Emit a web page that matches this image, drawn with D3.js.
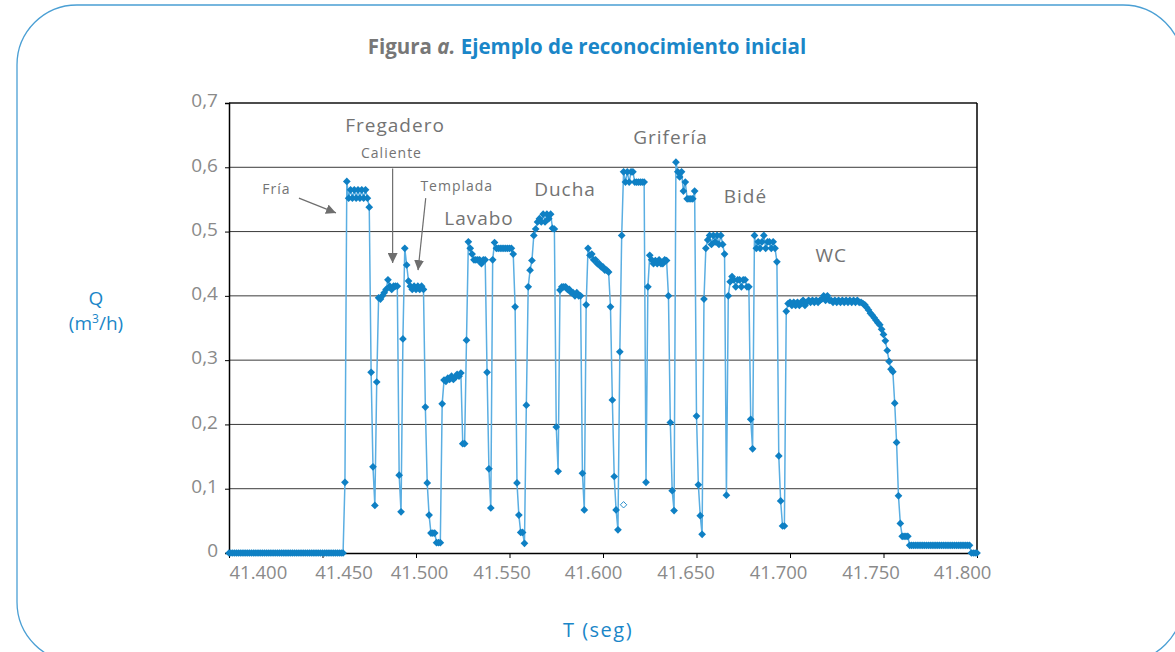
<!DOCTYPE html>
<html>
<head>
<meta charset="utf-8">
<script src="https://cdn.jsdelivr.net/npm/d3@7"></script>
<style>
  body { margin: 0; background: #fff; }
  svg text { font-family: "Open Sans", "Noto Sans", sans-serif; }
</style>
</head>
<body>
<svg id="chart" width="1175" height="652"></svg>
<script>
// Caudal Q (m3/h), una muestra por milisegundo desde T = 41.400 s
const reposoInicial = [
  0, 0, 0, 0, 0, 0, 0, 0, 0, 0, 0, 0, 0, 0, 0, 0, 0, 0, 0, 0,
  0, 0, 0, 0, 0, 0, 0, 0, 0, 0, 0, 0, 0, 0, 0, 0, 0, 0, 0, 0,
  0, 0, 0, 0, 0, 0, 0, 0, 0, 0, 0, 0, 0, 0, 0, 0, 0, 0, 0, 0,
  0, 0
];
const fregadero = [
  0.11, 0.578, 0.552, 0.565, 0.552, 0.565, 0.552, 0.565, 0.552, 0.565, 0.552, 0.565, 0.552, 0.538, 0.281, 0.134, 0.074, 0.266,
  0.397, 0.395, 0.40, 0.405, 0.41, 0.425, 0.415, 0.41, 0.415, 0.415, 0.415,
  0.121, 0.064, 0.333, 0.474, 0.448, 0.423, 0.415, 0.41, 0.415, 0.41, 0.415, 0.41, 0.415, 0.41,
  0.227, 0.109, 0.059, 0.031, 0.031, 0.031, 0.016, 0.016, 0.016,
  0.232, 0.269, 0.267, 0.272, 0.27, 0.275, 0.27, 0.273, 0.278, 0.275, 0.28, 0.17, 0.17
];
const lavabo = [
  0.331, 0.484, 0.474, 0.465, 0.456, 0.456, 0.456, 0.456, 0.45, 0.456, 0.456,
  0.281, 0.131, 0.07,
  0.456, 0.483, 0.474, 0.474, 0.474, 0.474, 0.474, 0.474, 0.474, 0.474, 0.474, 0.465, 0.383,
  0.109, 0.059, 0.032, 0.032, 0.015
];
const ducha = [
  0.23, 0.414, 0.44, 0.455, 0.494, 0.504, 0.515, 0.52, 0.515, 0.527, 0.515, 0.527, 0.52, 0.527, 0.505, 0.504,
  0.196, 0.127,
  0.409, 0.414, 0.414, 0.414, 0.41, 0.41, 0.405, 0.405, 0.40, 0.405, 0.40, 0.40,
  0.124, 0.067,
  0.386, 0.474, 0.463, 0.465, 0.456, 0.456, 0.45, 0.45, 0.445, 0.445, 0.44, 0.44, 0.437, 0.383,
  0.238, 0.119, 0.067, 0.036
];
const griferia = [
  0.313, 0.494, 0.593, 0.577, 0.593, 0.577, 0.593, 0.593, 0.577, 0.577, 0.577, 0.577, 0.577, 0.577,
  0.11,
  0.414, 0.463, 0.456, 0.45, 0.455, 0.45, 0.456, 0.45, 0.45, 0.456, 0.455, 0.40,
  0.203, 0.097, 0.066,
  0.608, 0.593, 0.585, 0.593, 0.563, 0.577, 0.551, 0.551, 0.551, 0.551, 0.563,
  0.213, 0.106, 0.058, 0.029
];
const bide = [
  0.395, 0.474, 0.487, 0.494, 0.48, 0.494, 0.484, 0.494, 0.48, 0.494, 0.48, 0.465,
  0.09,
  0.40, 0.422, 0.43, 0.425, 0.414, 0.425, 0.425, 0.414, 0.425, 0.425, 0.414, 0.414,
  0.208, 0.162,
  0.494, 0.474, 0.484, 0.474, 0.484, 0.494, 0.474, 0.484, 0.484, 0.474, 0.484, 0.474, 0.453,
  0.151, 0.081, 0.042, 0.042
];
const wc = [
  0.376, 0.388,
  0.39, 0.385, 0.39, 0.385, 0.39, 0.385, 0.39, 0.393, 0.385, 0.39,
  0.393, 0.39, 0.393, 0.39, 0.393, 0.39, 0.393, 0.395, 0.40, 0.393,
  0.40, 0.393, 0.393, 0.39, 0.393, 0.39, 0.393, 0.39, 0.393, 0.39,
  0.393, 0.39, 0.393, 0.39, 0.393, 0.39, 0.393, 0.39, 0.39,
  0.388, 0.386, 0.382, 0.378, 0.373, 0.37, 0.366, 0.362, 0.358, 0.355,
  0.348, 0.34, 0.33, 0.315, 0.298, 0.286, 0.282, 0.233, 0.172, 0.089,
  0.046, 0.026, 0.026, 0.026, 0.026
];
const reposoFinal = [
  0.012, 0.012, 0.012, 0.012, 0.012, 0.012, 0.012, 0.012, 0.012, 0.012, 0.012,
  0.012, 0.012, 0.012, 0.012, 0.012, 0.012, 0.012, 0.012, 0.012, 0.012, 0.012,
  0.012, 0.012, 0.012, 0.012, 0.012, 0.012, 0.012, 0.012, 0.012, 0.012, 0.012,
  0, 0, 0, 0
];
// punto suelto sin relleno (muestra, Q)
const atipico = [[211, 0.075]];

const ticksQ = [0, 0.1, 0.2, 0.3, 0.4, 0.5, 0.6, 0.7];
const etiquetasQ = ['0', '0,1', '0,2', '0,3', '0,4', '0,5', '0,6', '0,7'];
const muestrasT = [0, 50, 100, 150, 200, 250, 300, 350, 400];
const etiquetasT = ['41.400', '41.450', '41.500', '41.550', '41.600', '41.650', '41.700', '41.750', '41.800'];

const caudal = [...reposoInicial, ...fregadero, ...lavabo, ...ducha, ...griferia, ...bide, ...wc, ...reposoFinal];
const puntos = caudal.map((q, i) => [i, q]);

const W = 1175;
const H = 652;
const margin = { top: 103, right: 198, bottom: 99, left: 229 };
const BLUE = '#1a86c8';
const GREY = '#737373';
// pequeños desplazamientos de las etiquetas del eje T, como en la figura original
const nudgeT = [0, 21, 3, -8, -10, -11, -12, -13, -15];

const svg = d3.select('#chart');

const x = d3.scaleLinear().domain([0, caudal.length - 1]).range([margin.left, W - margin.right]);
const y = d3.scaleLinear().domain([0, 0.7]).range([H - margin.bottom, margin.top]);

// marco redondeado
svg.append('rect')
  .attr('x', 17).attr('y', 5)
  .attr('width', 1166).attr('height', 657)
  .attr('rx', 60).attr('ry', 60)
  .attr('fill', 'none')
  .attr('stroke', '#4a9fd4')
  .attr('stroke-width', 1.3);

// titulo
const title = svg.append('text')
  .attr('x', 587).attr('y', 54)
  .attr('text-anchor', 'middle')
  .attr('font-size', 20.5)
  .attr('font-weight', 700);
title.append('tspan').attr('fill', '#777').text('Figura ');
title.append('tspan').attr('fill', '#777').attr('font-style', 'italic').text('a.');
title.append('tspan').attr('fill', BLUE).text(' Ejemplo de reconocimiento inicial');

// rejilla
svg.append('g')
  .selectAll('line')
  .data(ticksQ.slice(1))
  .join('line')
  .attr('x1', x.range()[0]).attr('x2', x.range()[1])
  .attr('y1', d => y(d)).attr('y2', d => y(d))
  .attr('stroke', d => (d === 0.7 ? '#111' : '#3a3a3a'))
  .attr('stroke-width', d => (d === 0.7 ? 1.4 : 1));

// ejes
const yAxis = svg.append('g')
  .attr('transform', `translate(${margin.left},0)`)
  .call(d3.axisLeft(y).tickValues(ticksQ).tickFormat((d, i) => etiquetasQ[i]).tickSize(4).tickPadding(7));
yAxis.select('.domain').attr('stroke', '#000').attr('stroke-width', 1.5);
yAxis.selectAll('.tick line').attr('stroke', '#000');
yAxis.selectAll('.tick text')
  .attr('fill', '#8a8a8a')
  .attr('font-size', 19)
  .attr('dy', '0.2em');

const xAxis = svg.append('g')
  .attr('transform', `translate(0,${H - margin.bottom})`)
  .call(d3.axisBottom(x).tickValues(muestrasT).tickFormat((d, i) => etiquetasT[i]).tickSize(5).tickPadding(8).tickSizeOuter(0));
xAxis.select('.domain').attr('stroke', '#000').attr('stroke-width', 1.5);
xAxis.selectAll('.tick line').attr('stroke', '#000');
xAxis.selectAll('.tick text')
  .attr('fill', '#8a8a8a')
  .attr('font-size', 18.5)
  .attr('text-anchor', (d, i) => (i === 0 ? 'start' : 'middle'))
  .attr('dx', (d, i) => nudgeT[i]);

// borde derecho
svg.append('line')
  .attr('x1', x.range()[1]).attr('x2', x.range()[1])
  .attr('y1', y(0.7)).attr('y2', y(0))
  .attr('stroke', '#000').attr('stroke-width', 1.5);

// serie
svg.append('path')
  .datum(puntos)
  .attr('fill', 'none')
  .attr('stroke', '#5aaee2')
  .attr('stroke-width', 1.5)
  .attr('d', d3.line().x(d => x(d[0])).y(d => y(d[1])));

const rombo = d3.symbol().type(d3.symbolDiamond2 || d3.symbolSquare).size(38);
svg.append('g')
  .selectAll('path')
  .data(puntos)
  .join('path')
  .attr('transform', d => `translate(${x(d[0])},${y(d[1])})`)
  .attr('d', rombo)
  .attr('fill', '#0f80c4');

svg.append('g')
  .selectAll('path')
  .data(atipico)
  .join('path')
  .attr('transform', d => `translate(${x(d[0])},${y(d[1])})`)
  .attr('d', d3.symbol().type(d3.symbolDiamond2 || d3.symbolSquare).size(26))
  .attr('fill', '#fff')
  .attr('stroke', '#0f80c4')
  .attr('stroke-width', 0.9);

// titulos de ejes
const qLabel = svg.append('text')
  .attr('x', 96).attr('text-anchor', 'middle').attr('fill', BLUE);
qLabel.append('tspan').attr('x', 96).attr('y', 305).attr('font-size', 19).text('Q');
const unit = qLabel.append('tspan').attr('x', 96).attr('y', 330).attr('font-size', 19);
unit.append('tspan').text('(m');
unit.append('tspan').attr('font-size', 12).attr('dy', -7).text('3');
unit.append('tspan').attr('dy', 7).text('/h)');

svg.append('text')
  .attr('x', 598).attr('y', 637)
  .attr('text-anchor', 'middle')
  .attr('fill', BLUE)
  .attr('font-size', 20)
  .attr('letter-spacing', 1.5)
  .text('T (seg)');

// etiquetas de aparatos
const etiquetas = [
  { t: 'Fregadero', i: 88.8, q: 0.655, s: 19 },
  { t: 'Caliente', i: 86.9, q: 0.615, s: 14 },
  { t: 'Fría', i: 25.4, q: 0.558, s: 14 },
  { t: 'Templada', i: 121.8, q: 0.563, s: 14 },
  { t: 'Lavabo', i: 133.7, q: 0.51, s: 19 },
  { t: 'Ducha', i: 179.7, q: 0.556, s: 19 },
  { t: 'Grifería', i: 236.1, q: 0.636, s: 19 },
  { t: 'Bidé', i: 276.2, q: 0.544, s: 19 },
  { t: 'WC', i: 322.1, q: 0.453, s: 19 }
];
svg.append('g')
  .selectAll('text')
  .data(etiquetas)
  .join('text')
  .attr('x', d => x(d.i))
  .attr('y', d => y(d.q))
  .attr('text-anchor', 'middle')
  .attr('fill', GREY)
  .attr('font-size', d => d.s)
  .attr('letter-spacing', 1)
  .text(d => d.t);

// flechas
svg.append('defs').append('marker')
  .attr('id', 'punta')
  .attr('viewBox', '0 0 10 10')
  .attr('refX', 10).attr('refY', 5)
  .attr('markerWidth', 10).attr('markerHeight', 10)
  .attr('markerUnits', 'userSpaceOnUse')
  .attr('orient', 'auto')
  .append('path')
  .attr('d', 'M0,0L10,5L0,10Z')
  .attr('fill', '#6e6e6e');

const flechas = [
  { from: [37.4, 0.552], to: [57.2, 0.529] },
  { from: [87.5, 0.598], to: [87.5, 0.451] },
  { from: [105.2, 0.552], to: [101.1, 0.44] }
];
svg.append('g')
  .selectAll('line')
  .data(flechas)
  .join('line')
  .attr('x1', d => x(d.from[0])).attr('y1', d => y(d.from[1]))
  .attr('x2', d => x(d.to[0])).attr('y2', d => y(d.to[1]))
  .attr('stroke', '#6e6e6e')
  .attr('stroke-width', 1.2)
  .attr('marker-end', 'url(#punta)');
</script>
</body>
</html>
